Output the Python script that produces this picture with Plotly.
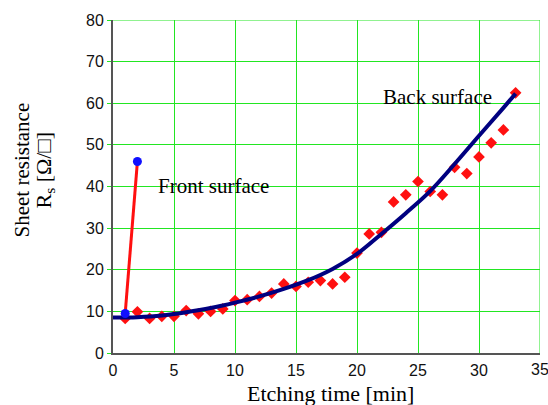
import plotly.graph_objects as go

# Back surface measurements
back_x = list(range(1, 34))
back_y = [8.3, 9.9, 8.3, 8.8, 8.8, 10.2, 9.4, 10.0, 10.6, 12.6, 12.8, 13.6, 14.4, 16.6, 16.0,
          17.0, 17.4, 16.6, 18.2, 24.0, 28.6, 29.0, 36.3, 38.0, 41.2, 38.8, 38.0, 44.6, 43.1,
          47.1, 50.5, 53.6, 62.5]

# Fitted curve (back surface)
fit_x = [0, 2, 4, 6, 8, 10, 12, 14, 16, 18, 20, 22, 24, 26, 28, 30, 32, 33]
fit_y = [8.5, 8.6, 9.0, 9.8, 10.8, 12.1, 13.6, 15.4, 17.5, 20.2, 23.8, 28.6, 33.6, 38.9,
         45.4, 52.2, 58.9, 62.3]

# Front surface
front_x = [1, 2]
front_y = [9.5, 46.0]

x_ticks = [0, 5, 10, 15, 20, 25, 30, 35]
y_ticks = [0, 10, 20, 30, 40, 50, 60, 70, 80]

serif = "Liberation Serif, Times New Roman, serif"
sans = "Liberation Sans, Arial, sans-serif"
grid = "#22e622"
tick_font = dict(family=sans, size=16, color="#111111")

fig = go.Figure()
fig.add_trace(go.Scatter(x=back_x, y=back_y, mode="markers",
                         marker=dict(symbol="diamond", size=9, color="#ff1010")))
fig.add_trace(go.Scatter(x=fit_x, y=fit_y, mode="lines",
                         line=dict(color="#000080", width=4, shape="spline")))
fig.add_trace(go.Scatter(x=front_x, y=front_y, mode="lines+markers",
                         line=dict(color="#ff1010", width=3),
                         marker=dict(size=9, color="#1010ff")))

fig.add_annotation(x=8.2, y=40.2, text="Front surface", showarrow=False,
                   font=dict(family=serif, size=21, color="black"))
fig.add_annotation(x=26.6, y=61.6, text="Back surface", showarrow=False,
                   font=dict(family=serif, size=21, color="black"))
fig.add_annotation(xref="paper", yref="paper", x=-0.214, y=0.55, xanchor="center",
                   yanchor="middle", text="Sheet resistance", showarrow=False,
                   textangle=-90, font=dict(family=serif, size=21, color="black"))
fig.add_annotation(xref="paper", yref="paper", x=-0.160, y=0.55, xanchor="center",
                   yanchor="middle", text="R<sub>s</sub> [Ω/□]", showarrow=False,
                   textangle=-90, font=dict(family=serif, size=22, color="black"))
fig.add_annotation(xref="paper", yref="paper", x=0.51, y=-0.122, xanchor="center",
                   yanchor="middle", text="Etching time [min]", showarrow=False,
                   font=dict(family=serif, size=22, color="black"))

# last x tick label, which the automatic labelling drops at the figure edge
last_tick = x_ticks[-1]
fig.add_annotation(x=last_tick, xref="x", yref="paper", y=0, yanchor="top", xanchor="center",
                   yshift=-6, text=str(last_tick), showarrow=False, font=tick_font)

# green grid lines on the top and right borders
fig.add_shape(type="line", xref="x", yref="paper", x0=x_ticks[-1], x1=x_ticks[-1], y0=0, y1=1,
              line=dict(color=grid, width=1), layer="below")
fig.add_shape(type="line", xref="paper", yref="y", x0=0, x1=1, y0=y_ticks[-1], y1=y_ticks[-1],
              line=dict(color=grid, width=1), layer="below")

fig.update_layout(
    width=548, height=405,
    margin=dict(l=113, r=8, t=20, b=52),
    paper_bgcolor="white", plot_bgcolor="white",
    showlegend=False,
    xaxis=dict(range=[0, 35], tickvals=x_ticks, showgrid=True, gridcolor=grid, gridwidth=1,
               zeroline=False, showline=True, linecolor="#555555", linewidth=2,
               ticks="", ticklabelstandoff=2, tickfont=tick_font),
    yaxis=dict(range=[0, 80.0001], tickvals=y_ticks, showgrid=True, gridcolor=grid, gridwidth=1,
               zeroline=False, showline=True, linecolor="#555555", linewidth=2,
               ticks="outside", ticklen=4, tickcolor=grid, tickfont=tick_font),
)
fig.write_html("out.html", config={"displayModeBar": False},
               post_script="document.body.style.margin='0';")
